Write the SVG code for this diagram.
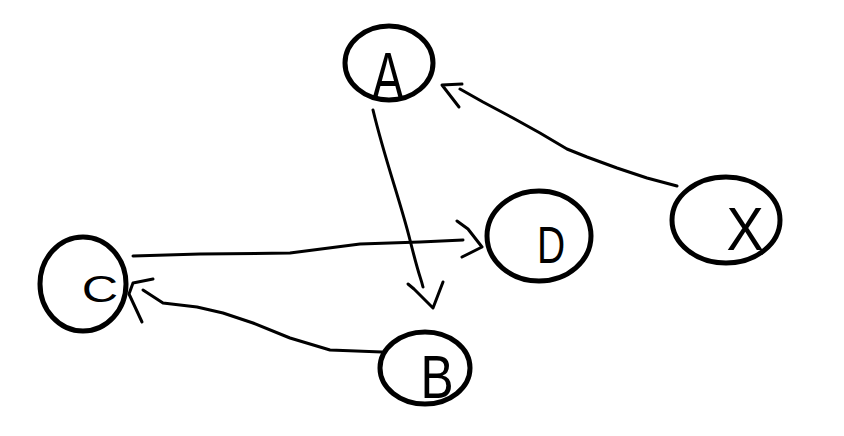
<svg xmlns="http://www.w3.org/2000/svg" width="844" height="436" viewBox="0 0 844 436">
<style>
.n{fill:none;stroke:#000;stroke-width:5}
.t{font-family:"Liberation Sans",Arial,sans-serif;fill:#000;text-anchor:middle}
.e{fill:none;stroke:#000;stroke-width:3;stroke-linecap:round;stroke-linejoin:round}
</style>
<rect width="844" height="436" fill="#fff"/>
<g id="connectors">
<g id="A-B"><path class="e" d="M373,110 C385,160 400,200 410,240 S420,275 423,287"/><polyline class="e" points="408,284 414,289 433,308 443,282"/></g>
<g id="X-A"><path class="e" d="M677,186 L647,178 L617,168 L587,157 L567,149 L540,133 L513,118 L483,102 L460,89"/><polyline class="e" points="462,84 442,85 459,107"/></g>
<g id="C-D"><path class="e" d="M133,256 L200,254 L290,253 L360,244 L420,242 L463,240"/><polyline class="e" points="457,221 468,229 482,247 462,257"/></g>
<g id="B-C"><path class="e" d="M382,352 L330,350 L290,338 L253,323 L223,313 L197,307 L163,303 L143,290"/><polyline class="e" points="153,279 133,283 129,294 142,322"/></g>
</g>
<g id="A"><ellipse class="n" cx="389" cy="63" rx="44" ry="37"/><text class="t" x="388" y="100" font-size="68" transform="translate(388 0) scale(0.7 1) translate(-388 0)">A</text></g>
<g id="D"><ellipse class="n" cx="539" cy="236" rx="52" ry="45"/><text class="t" x="551" y="263" font-size="52" transform="translate(551 0) scale(0.75 1) translate(-551 0)">D</text></g>
<g id="C"><ellipse class="n" cx="83" cy="284" rx="43" ry="47"/><text class="t" x="100" y="302" font-size="36" transform="translate(100 0) scale(1.4 1) translate(-100 0)">C</text></g>
<g id="B"><ellipse class="n" cx="425" cy="368" rx="45" ry="36"/><text class="t" x="437" y="398" font-size="62" transform="translate(437 0) scale(0.8 1) translate(-437 0)">B</text></g>
<g id="X"><ellipse class="n" cx="726" cy="220" rx="54" ry="43"/><text class="t" x="745" y="250" font-size="62" transform="translate(745 0) scale(0.9 1) translate(-745 0)">X</text></g>
</svg>
